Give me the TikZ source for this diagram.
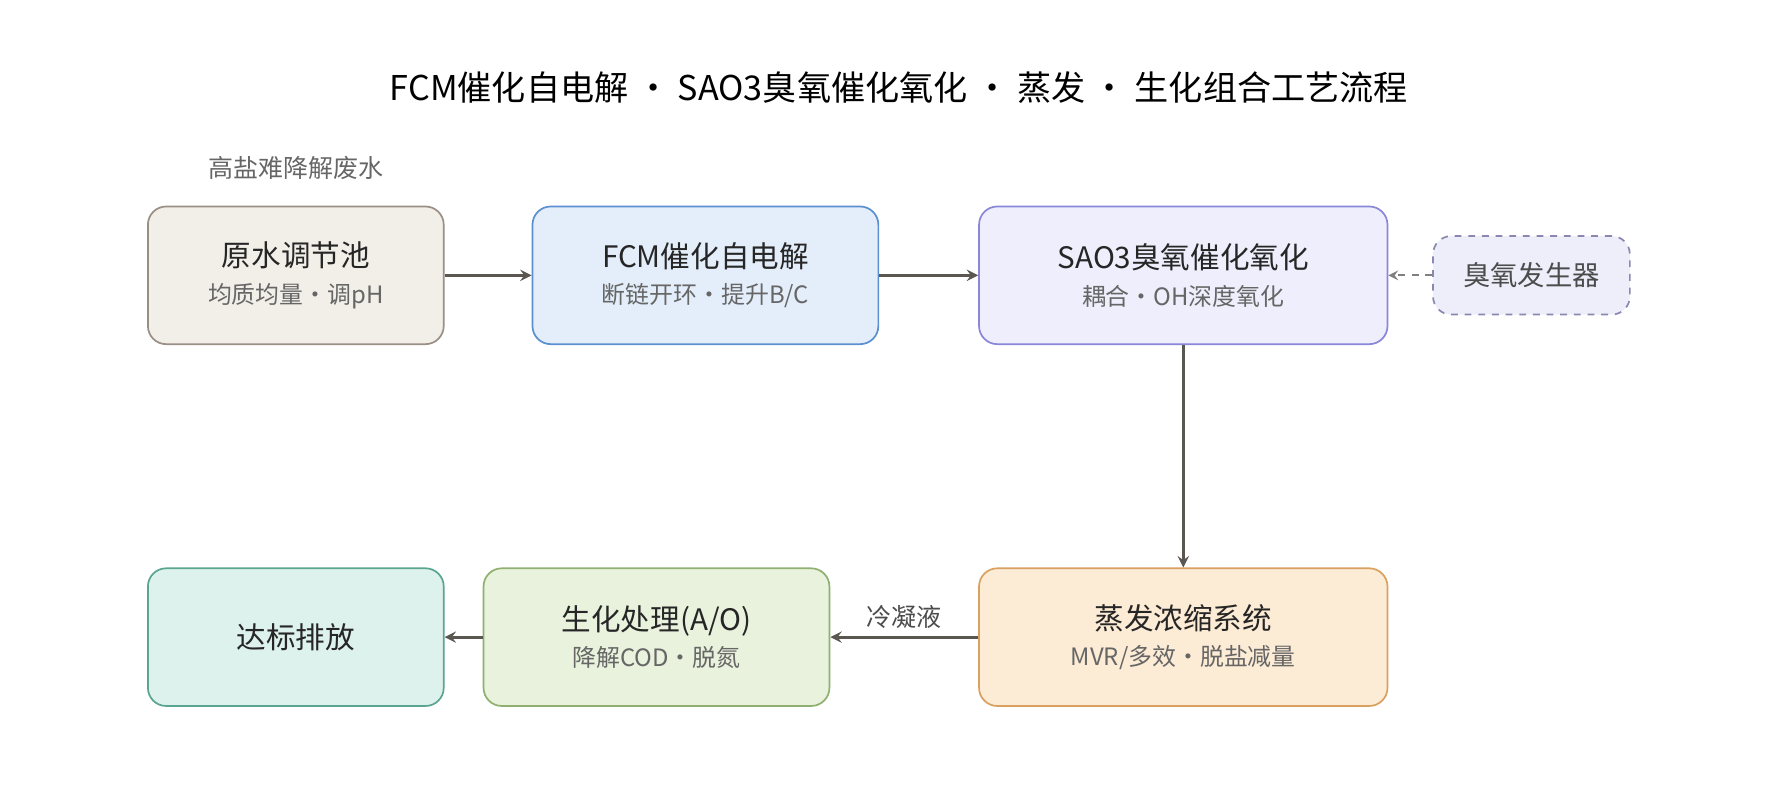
\documentclass[tikz,border=0pt]{standalone}
\usepackage{fontspec}
\setmainfont{Noto Sans CJK SC}
\usetikzlibrary{positioning}
\definecolor{rawfill}{HTML}{F2EEE8}\definecolor{rawline}{HTML}{9A8F85}
\definecolor{fcmfill}{HTML}{E3EEFA}\definecolor{fcmline}{HTML}{5B8FD0}
\definecolor{saofill}{HTML}{EEEEFC}\definecolor{saoline}{HTML}{8A86D8}
\definecolor{ozofill}{HTML}{EEEEFA}\definecolor{ozoline}{HTML}{8A88B0}
\definecolor{evafill}{HTML}{FCEBD5}\definecolor{evaline}{HTML}{D9A060}
\definecolor{biofill}{HTML}{E8F2DC}\definecolor{bioline}{HTML}{8FB070}
\definecolor{disfill}{HTML}{DDF2EC}\definecolor{disline}{HTML}{5AA590}
\definecolor{arrowgray}{HTML}{5A5650}
\newcommand{\subtxt}[1]{{\fontsize{10.5}{13}\selectfont\color{black!60}#1}}
\tikzset{every picture/.style={line width=0.75pt}}
\tikzset{
  stage/.style={draw, rounded corners=8pt, minimum height=60.5pt, align=center, font=\fontsize{13}{17}\selectfont, text=black!85},
  flow/.style={draw=arrowgray, line width=1.2pt, -stealth},
}
\begin{document}
\begin{tikzpicture}[x=0.5pt,y=0.5pt,yscale=-1,xscale=1]
\useasboundingbox (0,0) rectangle (1568,699);

%Title
\node (title) at (790,77) {\fontsize{15}{18}\selectfont FCM催化自电解 · SAO3臭氧催化氧化 · 蒸发 · 生化组合工艺流程};
\node[text=black!60, font=\fontsize{11}{13}\selectfont] (inflow) at (260,148) {高盐难降解废水};

%Stages, top row
\node[stage, fill=rawfill, draw=rawline, minimum width=130pt] (raw) at (260,242) {原水调节池\\[-1pt]\subtxt{均质均量·调pH}};
\node[stage, fill=fcmfill, draw=fcmline, minimum width=152pt] (fcm) at (620,242) {FCM催化自电解\\[-1pt]\subtxt{断链开环·提升B/C}};
\node[stage, fill=saofill, draw=saoline, minimum width=179.5pt] (sao) at (1040,242) {SAO3臭氧催化氧化\\[-1pt]\subtxt{耦合·OH深度氧化}};
\node[draw=ozoline, fill=ozofill, dashed, rounded corners=8pt, minimum width=86.5pt, minimum height=34.5pt, font=\fontsize{12}{14}\selectfont, text=black!70] (ozone) at (1346,242) {臭氧发生器};

%Stages, bottom row
\node[stage, fill=evafill, draw=evaline, minimum width=179.5pt] (evap) at (1040,560) {蒸发浓缩系统\\[-1pt]\subtxt{MVR/多效·脱盐减量}};
\node[stage, fill=biofill, draw=bioline, minimum width=152pt] (bio) at (577,560) {生化处理(A/O)\\[-1pt]\subtxt{降解COD·脱氮}};
\node[stage, fill=disfill, draw=disline, minimum width=130pt] (out) at (260,560) {达标排放};

%Connectors
\draw[flow] (raw) -- (fcm);
\draw[flow] (fcm) -- (sao);
\draw[draw=gray, line width=0.9pt, dashed, -stealth] (ozone) -- (sao);
\draw[flow] (sao) -- (evap);
\draw[flow] (evap) -- node[above, text=black!70, font=\fontsize{11}{13}\selectfont] {冷凝液} (bio);
\draw[flow] (bio) -- (out);

\end{tikzpicture}
\end{document}
